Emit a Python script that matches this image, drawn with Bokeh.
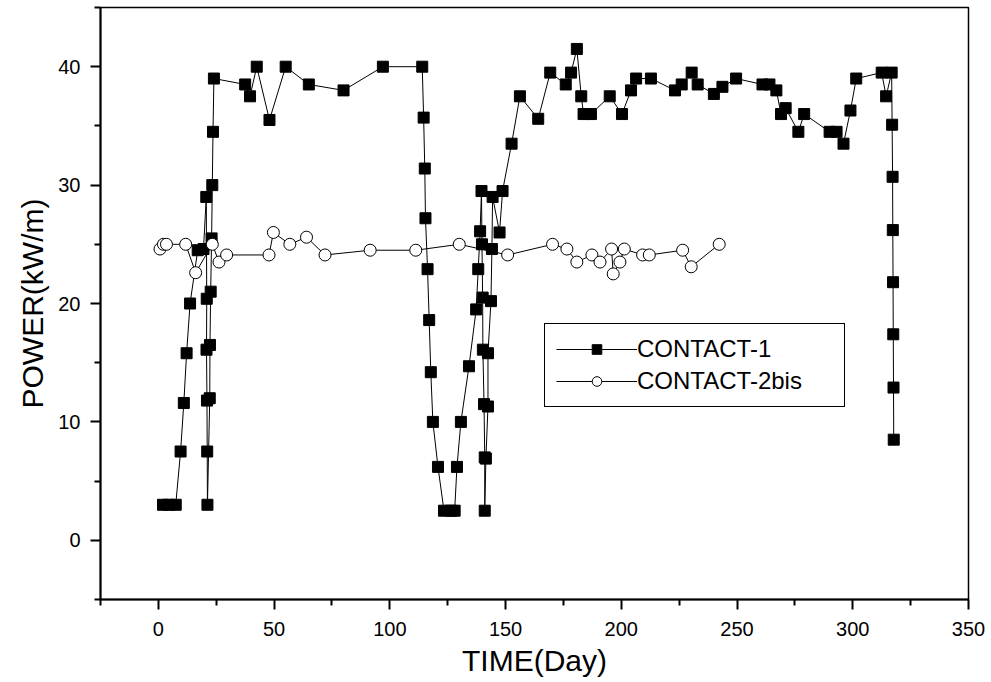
from bokeh.plotting import figure
from bokeh.models import Range1d, FixedTicker, Legend, LegendItem
from bokeh.embed import file_html
from bokeh.resources import INLINE

# CONTACT-1 (filled squares), in drawing order
c1_day = [2, 4.5, 7.5, 9.6, 11, 12.2, 13.7, 17, 19.5, 20.7, 20.9, 20.8, 21, 21.1, 21.2,
          22.2, 22.3, 22.6, 23, 23.3, 23.6, 24,
          37.5, 39.6, 42.5, 48, 55, 65, 80, 97, 114, 114.6, 115.1, 115.4, 116.3, 117, 117.7,
          118.6, 120.8, 123.4, 126.4, 128, 129, 130.7, 134.2, 137.3, 138.2, 139, 139.6,
          139.8, 140.1, 140.2, 140.7, 141, 141, 141.5, 142.4, 142.4, 143.7, 144.1, 144.4,
          147.4, 148.7, 152.6, 156.2, 164.1, 169.3, 176, 178.3, 180.8, 182.7, 183.7, 186.9,
          195, 200.3, 204.2, 206.4, 212.8, 223.2, 226.1, 230.4, 233, 240, 243.7, 249.6,
          261, 264, 267, 269, 271, 276.5, 279, 290, 293, 296, 299, 301.5, 312.5, 314.4,
          316.8, 317, 317.2, 317.3, 317.4, 317.5, 317.6, 317.7]
c1_power = [3, 3, 3, 7.5, 11.6, 15.8, 20, 24.5, 24.6, 29, 20.4, 16.1, 11.8, 7.5, 3,
            12, 16.5, 21, 25.5, 30, 34.5, 39,
            38.5, 37.5, 40, 35.5, 40, 38.5, 38, 40, 40, 35.7, 31.4, 27.2, 22.9, 18.6, 14.2,
            10, 6.2, 2.5, 2.5, 2.5, 6.2, 10, 14.7, 19.5, 22.9, 26.1, 29.5,
            25, 20.5, 16.1, 11.5, 7, 2.5, 6.9, 11.3, 15.8, 20.2, 24.6, 29,
            26, 29.5, 33.5, 37.5, 35.6, 39.5, 38.5, 39.5, 41.5, 37.5, 36, 36,
            37.5, 36, 38, 39, 39, 38, 38.5, 39.5, 38.5, 37.7, 38.3, 39,
            38.5, 38.5, 38, 36, 36.5, 34.5, 36, 34.5, 34.5, 33.5, 36.3, 39, 39.5, 37.5,
            39.5, 35.1, 30.7, 26.2, 21.8, 17.4, 12.9, 8.5]

# CONTACT-2bis (open circles)
c2_day = [0.7, 2.2, 3.5, 11.8, 16.1, 23.3, 26.2, 29.5, 47.8, 49.7, 56.8, 64, 72, 91.5,
          111.2, 130, 150.9, 170.3, 176.5, 180.8, 187.3, 190.8, 195.8, 196.5, 199.4,
          201.3, 209.2, 212.1, 226.5, 230.2, 242.3]
c2_power = [24.6, 25, 25, 25, 22.6, 25, 23.5, 24.1, 24.1, 26, 25, 25.6, 24.1, 24.5,
            24.5, 25, 24.1, 25, 24.6, 23.5, 24.1, 23.5, 24.6, 22.5, 23.5,
            24.6, 24.1, 24.1, 24.5, 23.1, 25]

x_major = [0, 50, 100, 150, 200, 250, 300, 350]
x_minor = [-25, 25, 75, 125, 175, 225, 275, 325]
y_major = [0, 10, 20, 30, 40]
y_minor = [-5, 5, 15, 25, 35, 45]

FONT = "Liberation Sans"

p = figure(width=991, height=682, output_backend="svg", toolbar_location=None,
           x_range=Range1d(-25, 350), y_range=Range1d(-5, 45),
           min_border_left=100, min_border_right=23, min_border_top=7, min_border_bottom=83,
           x_axis_label="TIME(Day)", y_axis_label="POWER(kW/m)")

p.xgrid.visible = False
p.ygrid.visible = False
p.outline_line_color = "black"
p.outline_line_width = 1.5
p.outline_line_alpha = 1
p.background_fill_color = "white"
p.border_fill_color = "white"

l1 = p.line(c1_day, c1_power, line_color="black", line_width=1)
s1 = p.scatter(c1_day, c1_power, marker="square", size=11, fill_color="black",
               line_color="black", line_width=1)
l2 = p.line(c2_day, c2_power, line_color="black", line_width=1)
s2 = p.scatter(c2_day, c2_power, marker="circle", size=12, fill_color="white",
               line_color="black", line_width=1)

p.xaxis.ticker = FixedTicker(ticks=x_major, minor_ticks=x_minor)
p.yaxis.ticker = FixedTicker(ticks=y_major, minor_ticks=y_minor)

for ax in (p.xaxis[0], p.yaxis[0]):
    ax.axis_line_width = 2
    ax.axis_line_color = "black"
    ax.major_tick_line_width = 2
    ax.minor_tick_line_width = 2
    ax.major_tick_line_color = "black"
    ax.minor_tick_line_color = "black"
    ax.major_tick_out = 10
    ax.major_tick_in = 0
    ax.minor_tick_out = 6
    ax.minor_tick_in = 0
    ax.major_label_text_font = FONT
    ax.major_label_text_font_size = "20px"
    ax.major_label_text_color = "black"
    ax.axis_label_text_font = FONT
    ax.axis_label_text_font_size = "30px"
    ax.axis_label_text_font_style = "normal"
    ax.axis_label_text_color = "black"

p.xaxis.major_label_standoff = 12
p.yaxis.major_label_standoff = 10
p.xaxis.axis_label_standoff = 5
p.yaxis.axis_label_standoff = 6

legend = Legend(items=[LegendItem(label="CONTACT-1", renderers=[l1, s1]),
                       LegendItem(label="CONTACT-2bis", renderers=[l2, s2])],
                location=(444, 192))
legend.border_line_color = "black"
legend.border_line_width = 1.5
legend.border_line_alpha = 1
legend.background_fill_color = "white"
legend.background_fill_alpha = 1
legend.label_text_font = FONT
legend.label_text_font_size = "24px"
legend.label_text_color = "black"
legend.glyph_width = 81
legend.glyph_height = 24
legend.label_height = 24
legend.label_standoff = 0
legend.label_width = 196
legend.spacing = 4
legend.padding = 11
legend.margin = 0
p.add_layout(legend)

open("out.html", "w").write(file_html(p, INLINE))
